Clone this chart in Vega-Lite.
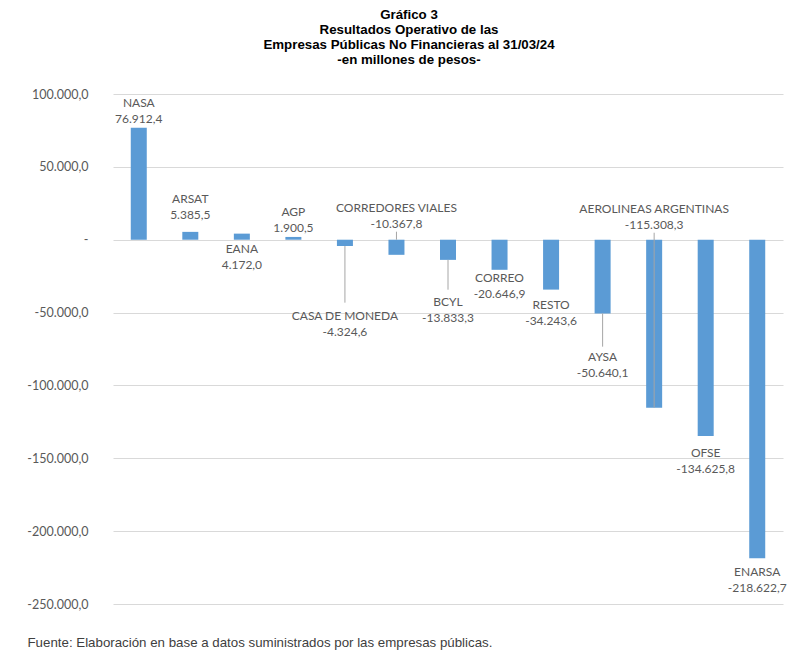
{
  "$schema": "https://vega.github.io/schema/vega-lite/v6.json",
  "width": 670,
  "height": 510,
  "autosize": {"type": "none"},
  "padding": {"left": 113, "top": 94, "right": 17, "bottom": 56},
  "background": "white",
  "config": {
    "locale": {"number": {"decimal": ",", "thousands": ".", "grouping": [3], "currency": ["$", ""], "minus": "-"}},
    "view": {"stroke": null}
  },
  "title": {
    "text": ["Gráfico 3", "Resultados Operativo de las", "Empresas Públicas No Financieras al 31/03/24", "-en millones de pesos-"],
    "font": "Liberation Sans",
    "fontWeight": "bold",
    "fontSize": 13.3,
    "lineHeight": 15,
    "color": "#000000",
    "anchor": "middle",
    "dx": -39,
    "offset": 22
  },
  "data": {
    "values": [
      {"name": "NASA", "value": 76912.4, "label_at": 88500},
      {"name": "ARSAT", "value": 5385.5, "label_at": 22600},
      {"name": "EANA", "value": 4172.0, "label_at": -12000},
      {"name": "AGP", "value": 1900.5, "label_at": 13700},
      {"name": "CASA DE MONEDA", "value": -4324.6, "label_at": -57600, "leader_from": -4324.6, "leader_to": -43200},
      {"name": "CORREDORES VIALES", "value": -10367.8, "label_at": 16500, "leader_from": 0, "leader_to": 5500},
      {"name": "BCYL", "value": -13833.3, "label_at": -48400, "leader_from": -13833.3, "leader_to": -34300},
      {"name": "CORREO", "value": -20646.9, "label_at": -31900},
      {"name": "RESTO", "value": -34243.6, "label_at": -50100},
      {"name": "AYSA", "value": -50640.1, "label_at": -86100, "leader_from": -50640.1, "leader_to": -73400},
      {"name": "AEROLINEAS ARGENTINAS", "value": -115308.3, "label_at": 15400, "leader_from": 4800, "leader_to": -115308.3},
      {"name": "OFSE", "value": -134625.8, "label_at": -151900},
      {"name": "ENARSA", "value": -218622.7, "label_at": -233500}
    ]
  },
  "encoding": {
    "x": {
      "field": "name",
      "type": "nominal",
      "sort": null,
      "scale": {"paddingInner": 0, "paddingOuter": 0},
      "axis": {
        "title": "Fuente: Elaboración en base a datos suministrados por las empresas públicas.",
        "labels": false,
        "ticks": false,
        "domain": false,
        "grid": false,
        "titleFont": "Liberation Sans",
        "titleFontSize": 13.3,
        "titleFontWeight": "normal",
        "titleColor": "#404040",
        "titleX": -86,
        "titleY": 31,
        "titleAlign": "left",
        "titleBaseline": "top",
        "titleAnchor": "start"
      }
    }
  },
  "layer": [
    {
      "mark": {"type": "bar", "width": 16, "color": "#5b9bd5"},
      "encoding": {
        "y": {
          "field": "value",
          "type": "quantitative",
          "scale": {"domain": [-250000, 100000], "nice": false},
          "axis": {
            "title": null,
            "values": [-250000, -200000, -150000, -100000, -50000, 0, 50000, 100000],
            "format": ",.1f",
            "labelExpr": "datum.value == 0 ? '-\u00a0\u00a0\u00a0' : datum.label",
            "ticks": false,
            "domain": false,
            "gridColor": "#d9d9d9",
            "labelPadding": 25,
            "labelFont": "Lato",
            "labelFontSize": 12.5,
            "labelColor": "#595959"
          }
        }
      }
    },
    {
      "transform": [{"filter": "isValid(datum.leader_from)"}],
      "mark": {"type": "rule", "color": "#a6a6a6", "strokeWidth": 1},
      "encoding": {
        "y": {"field": "leader_from", "type": "quantitative"},
        "y2": {"field": "leader_to"}
      }
    },
    {
      "mark": {"type": "text", "font": "Lato", "fontSize": 12, "color": "#595959", "dy": -8, "baseline": "middle"},
      "encoding": {
        "y": {"field": "label_at", "type": "quantitative"},
        "text": {"field": "name", "type": "nominal"}
      }
    },
    {
      "mark": {"type": "text", "font": "Lato", "fontSize": 12, "color": "#595959", "dy": 8, "baseline": "middle"},
      "encoding": {
        "y": {"field": "label_at", "type": "quantitative"},
        "text": {"field": "value", "type": "quantitative", "format": ",.1f"}
      }
    }
  ]
}
